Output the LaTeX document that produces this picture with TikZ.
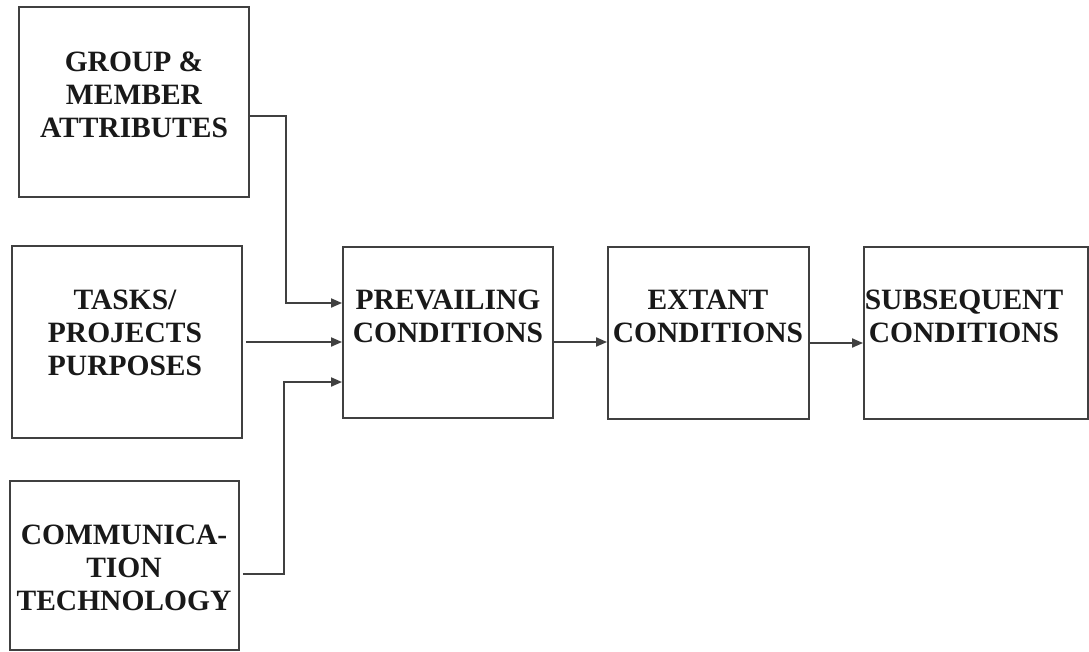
\documentclass[tikz,border=0pt]{standalone}
\usepackage{fontspec}
\setmainfont{Liberation Serif}
\usetikzlibrary{arrows.meta,calc}
\begin{document}
\begin{tikzpicture}[x=1pt,y=-1pt,
  boxnode/.style={draw=linegray, line width=1.9pt, rectangle, inner sep=0pt},
  lbl/.style={font=\fontsize{29.5}{33}\selectfont\bfseries, text=black!90, align=center, inner sep=0pt},
  flow/.style={draw=linegray, line width=1.9pt, -{Triangle[length=11pt,width=9pt]}}]
\definecolor{linegray}{HTML}{404040}
\useasboundingbox (0,0) rectangle (1089,651);
\fill[white] (0,0) rectangle (1089,651);

% input boxes on the left
\node[boxnode, minimum width=230pt, minimum height=190pt] (grp) at (134,102) {};
\node[boxnode, minimum width=230pt, minimum height=192pt] (tsk) at (127,342) {};
\node[boxnode, minimum width=229pt, minimum height=169pt] (com) at (124.5,565.5) {};

% chain of conditions
\node[boxnode, minimum width=210pt, minimum height=171pt] (prv) at (448,332.5) {};
\node[boxnode, minimum width=201pt, minimum height=172pt] (ext) at (708.5,333) {};
\node[boxnode, minimum width=224pt, minimum height=172pt] (sub) at (976,333) {};

% box texts
\node[lbl] (grpT) at (134,95) {GROUP \&\\MEMBER\\ATTRIBUTES};
\node[lbl] (tskT) at (125,333) {TASKS/\\PROJECTS\\PURPOSES};
\node[lbl] (comT) at (124,568) {COMMUNICA-\\TION\\TECHNOLOGY};
\node[lbl] (prvT) at (448,316.5) {PREVAILING\\CONDITIONS};
\node[lbl] (extT) at (708,316.5) {EXTANT\\CONDITIONS};
\node[lbl] (subT) at (964,316.5) {SUBSEQUENT\\CONDITIONS};

% connectors
\draw[flow] ([yshift=-14pt]grp.east) -- ++(36,0) |- ([yshift=29.5pt]prv.west);
\draw[flow] ([xshift=3pt,yshift=-9.5pt]prv.west -| tsk.east) -- ([yshift=-9.5pt]prv.west);
\draw[flow] ([xshift=3pt,yshift=-8.5pt]com.east) -- ++(41,0) |- ([yshift=-49.5pt]prv.west);
\draw[flow] ([yshift=-9.5pt]prv.east) -- ([yshift=-9.5pt]prv.east -| ext.west);
\draw[flow] ([yshift=-10pt]ext.east) -- ([yshift=-10pt]ext.east -| sub.west);
\end{tikzpicture}
\end{document}
